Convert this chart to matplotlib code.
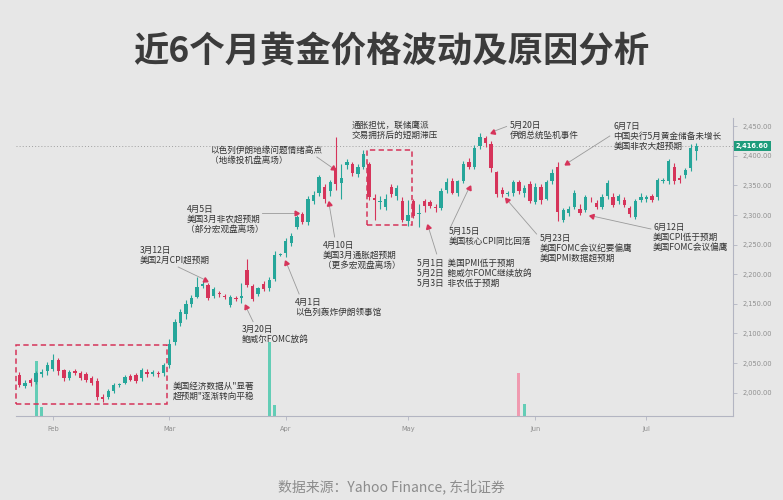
import numpy as np
import pandas as pd
import matplotlib
matplotlib.use('Agg')
import matplotlib.pyplot as plt
import matplotlib.transforms as mtransforms

plt.rcParams['font.family'] = ['Noto Sans CJK SC', 'DejaVu Sans']

# daily bars, weekdays from 2024-01-24 to 2024-07-12
dates = pd.bdate_range('2024-01-24', '2024-07-12')

opens = [
    2030, 2012, 2021, 2018, 2031, 2036,                      # Jan
    2040, 2055, 2038, 2025, 2036, 2034, 2032, 2024, 2020, 1993,
    1992, 2003, 2013, 2016, 2028, 2030, 2024, 2035, 2032, 2034, 2033,   # Feb
    2046, 2085, 2118, 2133, 2150, 2162, 2181, 2182, 2163, 2168, 2163,
    2148, 2160, 2160, 2208, 2180, 2167, 2184, 2176, 2192, 2233,         # Mar
    2236, 2252, 2280, 2302, 2288, 2323, 2337, 2348, 2340, 2380, 2355,
    2384, 2386, 2369, 2382, 2386, 2329, 2322, 2314, 2348, 2332, 2323,   # Apr
    2290, 2323, 2302, 2323, 2322, 2314, 2312, 2342, 2358, 2337, 2358,
    2390, 2382, 2416, 2430, 2420, 2372, 2342, 2336, 2337, 2356, 2338, 2352,  # May
    2322, 2348, 2328, 2357, 2382, 2292, 2303, 2314, 2311, 2309, 2326,
    2320, 2314, 2332, 2331, 2323, 2326, 2312, 2297, 2326,               # Jun
    2328, 2332, 2330, 2358, 2357, 2382, 2362, 2368, 2379, 2408,         # Jul
]
highs = [
    2035, 2022, 2025, 2036, 2040, 2052,
    2066, 2058, 2040, 2039, 2040, 2037, 2035, 2028, 2024, 1997,
    2006, 2016, 2017, 2030, 2032, 2034, 2041, 2040, 2038, 2037, 2050,
    2090, 2125, 2142, 2156, 2165, 2195, 2188, 2185, 2178, 2172, 2166,
    2165, 2164, 2186, 2225, 2184, 2178, 2188, 2195, 2240, 2236,
    2262, 2270, 2300, 2306, 2332, 2340, 2368, 2352, 2360, 2432, 2387,
    2394, 2390, 2386, 2410, 2390, 2335, 2332, 2336, 2352, 2350, 2330,
    2326, 2327, 2318, 2328, 2326, 2318, 2345, 2362, 2362, 2360, 2392,
    2396, 2418, 2438, 2434, 2425, 2375, 2348, 2340, 2360, 2360, 2350, 2358,
    2355, 2352, 2360, 2378, 2390, 2312, 2315, 2342, 2318, 2334, 2330,
    2326, 2335, 2360, 2338, 2335, 2330, 2316, 2328, 2337,
    2334, 2336, 2362, 2362, 2394, 2388, 2368, 2380, 2420, 2421,
]
lows = [
    2010, 2008, 2012, 2014, 2026, 2030,
    2036, 2030, 2020, 2022, 2030, 2022, 2018, 2013, 1988, 1985,
    1990, 1999, 2010, 2014, 2019, 2017, 2020, 2027, 2029, 2026, 2028,
    2042, 2080, 2112, 2124, 2144, 2160, 2176, 2156, 2160, 2162, 2158,
    2145, 2155, 2152, 2178, 2155, 2163, 2172, 2172, 2188, 2231,
    2230, 2248, 2276, 2285, 2283, 2318, 2333, 2320, 2332, 2342, 2328,
    2378, 2366, 2364, 2378, 2325, 2292, 2310, 2308, 2330, 2325, 2288,
    2282, 2295, 2280, 2305, 2312, 2306, 2308, 2338, 2335, 2332, 2355,
    2378, 2378, 2412, 2415, 2372, 2330, 2330, 2333, 2332, 2335, 2330, 2320,
    2318, 2318, 2325, 2352, 2290, 2288, 2298, 2310, 2300, 2305, 2322,
    2310, 2310, 2328, 2314, 2318, 2314, 2296, 2293, 2322,
    2322, 2322, 2326, 2354, 2352, 2352, 2355, 2362, 2374, 2393,
]
closes = [
    2013, 2016, 2016, 2033, 2035, 2047,
    2055, 2036, 2025, 2035, 2034, 2025, 2022, 2017, 1992, 1989,
    2002, 2013, 2014, 2027, 2021, 2019, 2038, 2031, 2035, 2031, 2046,
    2083, 2119, 2136, 2150, 2160, 2178, 2183, 2160, 2175, 2166, 2161,
    2161, 2158, 2163, 2182, 2158, 2176, 2175, 2190, 2233, 2234,
    2256, 2264, 2297, 2289, 2327, 2334, 2365, 2328, 2356, 2352, 2362,
    2390, 2371, 2382, 2404, 2331, 2325, 2324, 2328, 2336, 2346, 2292,
    2300, 2298, 2304, 2316, 2315, 2312, 2340, 2356, 2337, 2357, 2387,
    2382, 2413, 2432, 2421, 2380, 2336, 2335, 2338, 2356, 2340, 2346, 2324,
    2348, 2326, 2356, 2371, 2306, 2309, 2310, 2337, 2303, 2330, 2325,
    2313, 2331, 2355, 2317, 2332, 2317, 2301, 2323, 2330,
    2331, 2326, 2360, 2358, 2391, 2357, 2360, 2377, 2414, 2416.6,
]

# volume spikes around contract roll dates (other days too small to show)
vol_dates = ['2024-01-29', '2024-01-30', '2024-03-27', '2024-03-28', '2024-05-29', '2024-05-30']
vol_values = [55000, 9000, 75000, 11000, 43000, 12000]

month_labels = ['Feb', 'Mar', 'Apr', 'May', 'Jun', 'Jul']
month_nums = [2, 3, 4, 5, 6, 7]
price_ticks = [2000, 2050, 2100, 2150, 2200, 2250, 2300, 2350, 2400, 2450]

BG = '#e7e7e7'
UP = '#26a69a'
DOWN = '#d6345a'
GRID = '#b3b5c2'
ARROW = '#9a9a9a'
TXT = '#333333'

fig = plt.figure(figsize=(7.83, 5.0), dpi=100, facecolor=BG)
ax = fig.add_axes([16/783, 84/500, 717/783, 298/500])
axv = ax.twinx()
ax.set_zorder(2)
axv.set_zorder(1)
ax.patch.set_visible(False)
axv.patch.set_visible(False)

x = np.arange(len(dates))
o = np.array(opens, float)
h = np.array(highs, float)
l = np.array(lows, float)
c = np.array(closes, float)
up = c >= o
cols = np.where(up, UP, DOWN)

# volume
vidx = [dates.get_loc(pd.Timestamp(d)) for d in vol_dates]
vcols = ['#63cdb6' if up[i] else '#f09ab0' for i in vidx]
axv.bar(vidx, vol_values, width=0.5, color=vcols, linewidth=0)
axv.set_ylim(0, 300000)
axv.axis('off')

# candles
ax.vlines(x, l, h, colors=cols, lw=0.8, zorder=3)
ax.bar(x, np.maximum(np.abs(c - o), 0.8), bottom=np.minimum(o, c), width=0.6,
       color=cols, linewidth=0, zorder=4)

ax.set_xlim(-0.63, 128.6)
ax.set_ylim(1960.6, 2464.0)

# last price line + label
last = closes[-1]
ax.axhline(last, color='#a0a0a0', lw=0.7, ls=(0, (1, 2.2)), zorder=1)
trans = mtransforms.blended_transform_factory(ax.transAxes, ax.transData)
ax.text(1.004, last, f'{last:,.2f}', transform=trans, ha='left', va='center',
        fontsize=4.8, color='white', fontweight='bold', family='DejaVu Sans',
        bbox=dict(boxstyle='square,pad=0.3', fc='#1f9c7c', ec='none'), zorder=8)

# axes styling
for s in ['left', 'top']:
    ax.spines[s].set_visible(False)
for s in ['right', 'bottom']:
    ax.spines[s].set_color(GRID)
    ax.spines[s].set_linewidth(0.8)
ax.yaxis.tick_right()
ax.set_yticks(price_ticks)
ax.set_yticklabels([f'{p:,.2f}' for p in price_ticks], family='DejaVu Sans')
mt = [int(np.argmax(dates.month == m)) for m in month_nums]
ax.set_xticks(mt)
ax.set_xticklabels(month_labels, family='DejaVu Sans')
ax.tick_params(axis='both', length=3, width=0.6, color=GRID, labelcolor='#8e8e8e',
               labelsize=4.8, pad=4)

# dashed boxes
box_style = dict(fill=False, ec=DOWN, lw=1.1, ls=(0, (3.5, 2.2)), zorder=6, clip_on=False)
ax.add_patch(plt.Rectangle((-0.6, 1981), 27.1, 99.6, **box_style))
ax.add_patch(plt.Rectangle((62.6, 2283), 8.1, 127, **box_style))

# annotations: text, text anchor, line start, marker
events = [
    ('3月12日\n美国2月CPI超预期', (21.7, 2248.6), (28.6, 2212.3), (33.5, 2190.4)),
    ('3月20日\n鲍威尔FOMC放鸽', (40.0, 2115.2), (42.1, 2119.9), (40.8, 2145.3)),
    ('4月1日\n以色列轰炸伊朗领事馆', (49.6, 2160.8), (50.4, 2166.7), (48.1, 2219.6)),
    ('4月5日\n美国3月非农超预期\n（部分宏观盘离场）', (30.1, 2317.1), (43.7, 2304.1), (49.9, 2304.1)),
    ('以色列伊朗地缘问题情绪高点\n（地缘投机盘离场）', (34.3, 2416.7), (53.6, 2398.1), (56.5, 2379.1)),
    ('4月10日\n美国3月通胀超预期\n（更多宏观盘离场）', (54.7, 2257.1), (56.8, 2263.0), (55.8, 2318.8)),
    ('5月1日  美国PMI低于预期\n5月2日  鲍威尔FOMC继续放鸽\n5月3日  非农低于预期',
     (71.6, 2225.8), (75.2, 2234.3), (73.7, 2279.4)),
    ('5月15日\n美国核心CPI同比回落', (77.3, 2279.9), (77.7, 2279.9), (81.0, 2345.3)),
    ('5月20日\n伊朗总统坠机事件', (88.4, 2458.9), (87.8, 2449.7), (85.3, 2440.9)),
    ('5月23日\n美国FOMC会议纪要偏鹰\n美国PMI数据超预期', (93.8, 2268.0), (93.2, 2268.0), (87.9, 2325.5)),
    ('6月7日\n中国央行5月黄金储备未增长\n美国非农大超预期', (107.0, 2457.3), (106.4, 2433.6), (98.7, 2387.5)),
    ('6月12日\n美国CPI低于预期\n美国FOMC会议偏鹰', (114.2, 2286.7), (113.8, 2276.5), (103.2, 2298.5)),
]
for text, (tx, ty), (sx, sy), (mx, my) in events:
    ax.text(tx, ty, text, fontsize=6.2, color=TXT, ha='left', va='top',
            linespacing=1.15, zorder=7, clip_on=False)
    p0 = ax.transData.transform((sx, sy))
    p1 = ax.transData.transform((mx, my))
    ang = np.degrees(np.arctan2(p1[1] - p0[1], p1[0] - p0[0]))
    ax.plot([sx, mx], [sy, my], color=ARROW, lw=0.6, zorder=5, clip_on=False)
    ax.plot(mx, my, marker=(3, 0, ang - 90), ms=4, color=DOWN, mec=DOWN, zorder=6)

ax.text(59.9, 2459.8, '通胀担忧，联储鹰派\n交易拥挤后的短期滞压', fontsize=6.2, color=TXT,
        ha='left', va='top', linespacing=1.15, zorder=7, clip_on=False)
ax.text(27.6, 2018.9, '美国经济数据从"显著\n超预期"逐渐转向平稳', fontsize=6.2, color=TXT,
        ha='left', va='top', linespacing=1.15, zorder=7, clip_on=False)

fig.text(0.5, 1 - 52/500, '近6个月黄金价格波动及原因分析', ha='center', va='center',
         fontsize=25.5, fontweight='bold', color='#3b3b3b')
fig.text(0.5, 1 - 487/500, '数据来源：Yahoo Finance, 东北证券', ha='center', va='center',
         fontsize=10, color='#8c8c8c')

fig.savefig('out.png', dpi=100, facecolor=BG)
plt.close('all')
